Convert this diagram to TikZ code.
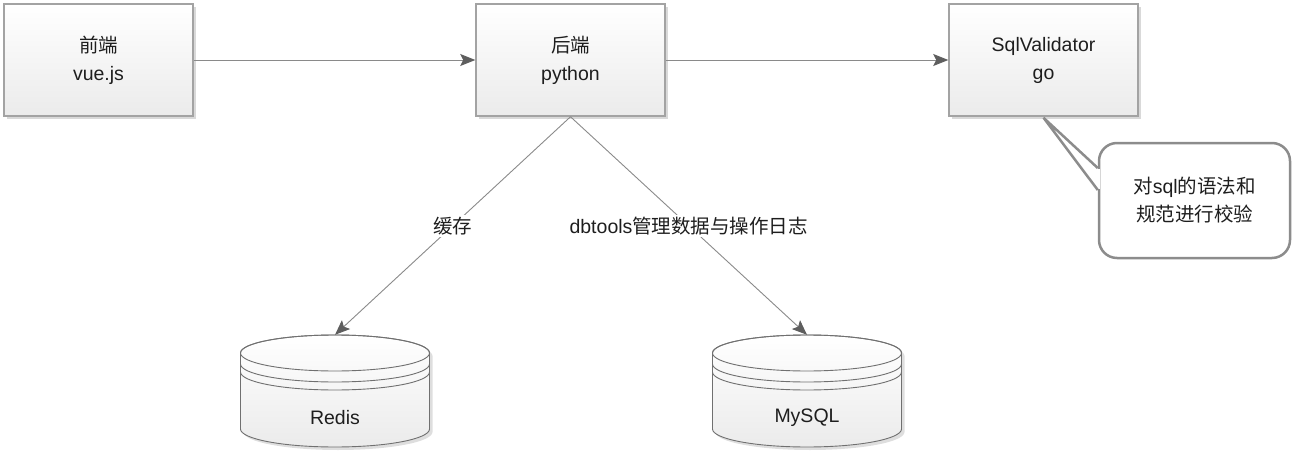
\documentclass[tikz,border=0pt]{standalone}
\usepackage{fontspec}
\setmainfont{Liberation Sans}
\newfontfamily\cjk{Noto Sans CJK SC}
\usetikzlibrary{arrows.meta,shadows}
\definecolor{boxline}{HTML}{A3A3A3}
\definecolor{boxbot}{HTML}{EBEBEB}
\definecolor{lnk}{HTML}{8A8A8A}
\definecolor{head}{HTML}{5E5E5E}
\definecolor{dbline}{HTML}{707070}
\definecolor{notec}{HTML}{8C8C8C}
\definecolor{txt}{HTML}{1E1E1E}
\tikzset{
  box/.style={draw=boxline,line width=1.5pt,top color=white,bottom color=boxbot,
    minimum width=189pt,minimum height=112pt,align=center,text=txt,
    drop shadow={shadow xshift=3pt,shadow yshift=-3pt,fill=black!15,opacity=1}},
  link/.style={draw=lnk,line width=0.9pt,-{Stealth[length=15pt,width=12pt,inset=3pt,color=head]}},
  lbl/.style={fill=white,text=txt,inner sep=2pt},
  dbbox/.style={minimum width=189pt,minimum height=112pt,inner sep=0pt},
  note/.style={draw=notec,line width=2.5pt,rounded corners=18pt,fill=white,
    minimum width=191pt,minimum height=115pt,align=center,text=txt},
}
\def\cyl#1{(#1-94.5,353) -- (#1-94.5,429) arc[start angle=180,end angle=0,x radius=94.5,y radius=18]
  -- (#1+94.5,353) arc[start angle=0,end angle=-180,x radius=94.5,y radius=18] -- cycle}
\def\DB#1#2#3{
  \fill[black!13,shift={(3,3)}] \cyl{#2};
  \shade[top color=white,bottom color=boxbot] \cyl{#2};
  \draw[dbline,line width=0.9pt] \cyl{#2};
  \draw[dbline,line width=0.9pt] (#2,353) ellipse [x radius=94.5,y radius=18];
  \foreach \r in {364,372}
    \draw[dbline,line width=0.9pt] (#2-94.5,\r) arc[start angle=180,end angle=0,x radius=94.5,y radius=18];
  \node[dbbox] (#1) at (#2,391) {};
  \node[text=txt] (#1-txt) at (#2,418) {#3};
}

\begin{document}
\begin{tikzpicture}[x=1pt,y=-1pt,font=\fontsize{19.5pt}{28pt}\selectfont]
  \useasboundingbox (0,0) rectangle (1294,452);
  \node[box] (front) at (98.5,60) {{\cjk 前端}\\vue.js};
  \node[box] (back) at (570.5,60) {{\cjk 后端}\\python};
  \node[box] (sqlv) at (1043.5,60) {SqlValidator\\go};
  \DB{redis}{335}{Redis}
  \DB{mysql}{807}{MySQL}
  \draw[link] (front) -- (back);
  \draw[link] (back) -- (sqlv);
  \draw[link] (back.south) -- node[lbl] {\cjk 缓存} (redis.north);
  \draw[link] (back.south) -- node[lbl] {dbtools{\cjk 管理数据与操作日志}} (mysql.north);
  \node[note] (note) at (1194.5,200.5) {{\cjk 对}sql{\cjk 的语法和}\\{\cjk 规范进行校验}};
  \coordinate (tip) at ([yshift=-1pt]sqlv.south);
  \coordinate (b1) at ([yshift=32.5pt]note.west);
  \coordinate (b2) at ([yshift=10.5pt]note.west);
  \fill[white] (tip) -- (b1) -- (b2) -- cycle;
  \fill[white] ([xshift=-2pt,yshift=-1pt]b1) rectangle ([xshift=2pt,yshift=1pt]b2);
  \draw[notec,line width=2.5pt,line join=miter] (b1) -- (tip) -- (b2);
\end{tikzpicture}
\end{document}
